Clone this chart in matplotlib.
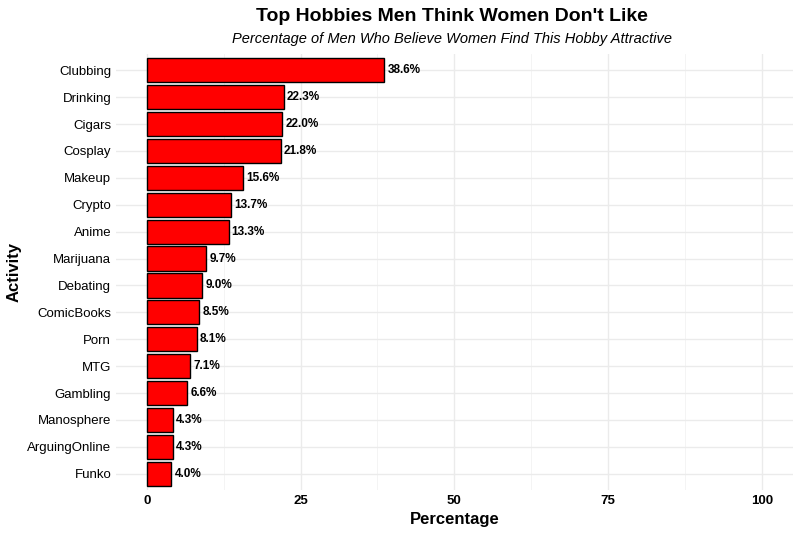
import matplotlib.pyplot as plt
import numpy as np

plt.rcParams["font.family"] = ["Liberation Sans", "DejaVu Sans"]

activities = ["Clubbing", "Drinking", "Cigars", "Cosplay", "Makeup", "Crypto", "Anime",
              "Marijuana", "Debating", "ComicBooks", "Porn", "MTG", "Gambling",
              "Manosphere", "ArguingOnline", "Funko"]
percentages = [38.6, 22.3, 22.0, 21.8, 15.6, 13.7, 13.3, 9.7, 9.0, 8.5, 8.1, 7.1, 6.6, 4.3, 4.3, 4.0]

fig = plt.figure(figsize=(8, 5.36), dpi=100)
ax = fig.add_axes([0.145, 0.086, 0.846, 0.813])

y = np.arange(len(activities))[::-1]
ax.barh(y, percentages, height=0.9, color="#ff0000", edgecolor="black", linewidth=1, zorder=3)
for yi, p in zip(y, percentages):
    ax.text(p + 0.5, yi, "%.1f%%" % p, va="center", ha="left", fontsize=8.5, fontweight="bold", zorder=4)

ax.set_xlim(-5, 105)
ax.set_ylim(-0.6, len(activities) - 0.4)
ax.set_xticks([0, 25, 50, 75, 100])
ax.set_xticks([12.5, 37.5, 62.5, 87.5], minor=True)
ax.set_yticks(y)
ax.set_yticklabels(activities)
ax.grid(True, which="major", color="#ebebeb", linewidth=1, zorder=0)
ax.grid(True, which="minor", axis="x", color="#f3f3f3", linewidth=0.6, zorder=0)
for s in ax.spines.values():
    s.set_visible(False)
ax.tick_params(which="both", length=0, labelsize=9.5)
for lbl in ax.get_xticklabels():
    lbl.set_fontweight("bold")

ax.set_xlabel("Percentage", fontsize=12, fontweight="bold")
ax.set_ylabel("Activity", fontsize=12, fontweight="bold", labelpad=4)
fig.text(0.565, 0.97, "Top Hobbies Men Think Women Don't Like", ha="center", va="center",
         fontsize=14, fontweight="bold")
fig.text(0.565, 0.927, "Percentage of Men Who Believe Women Find This Hobby Attractive", ha="center",
         va="center", fontsize=10.5, style="italic")

plt.savefig("out.png", dpi=100)
